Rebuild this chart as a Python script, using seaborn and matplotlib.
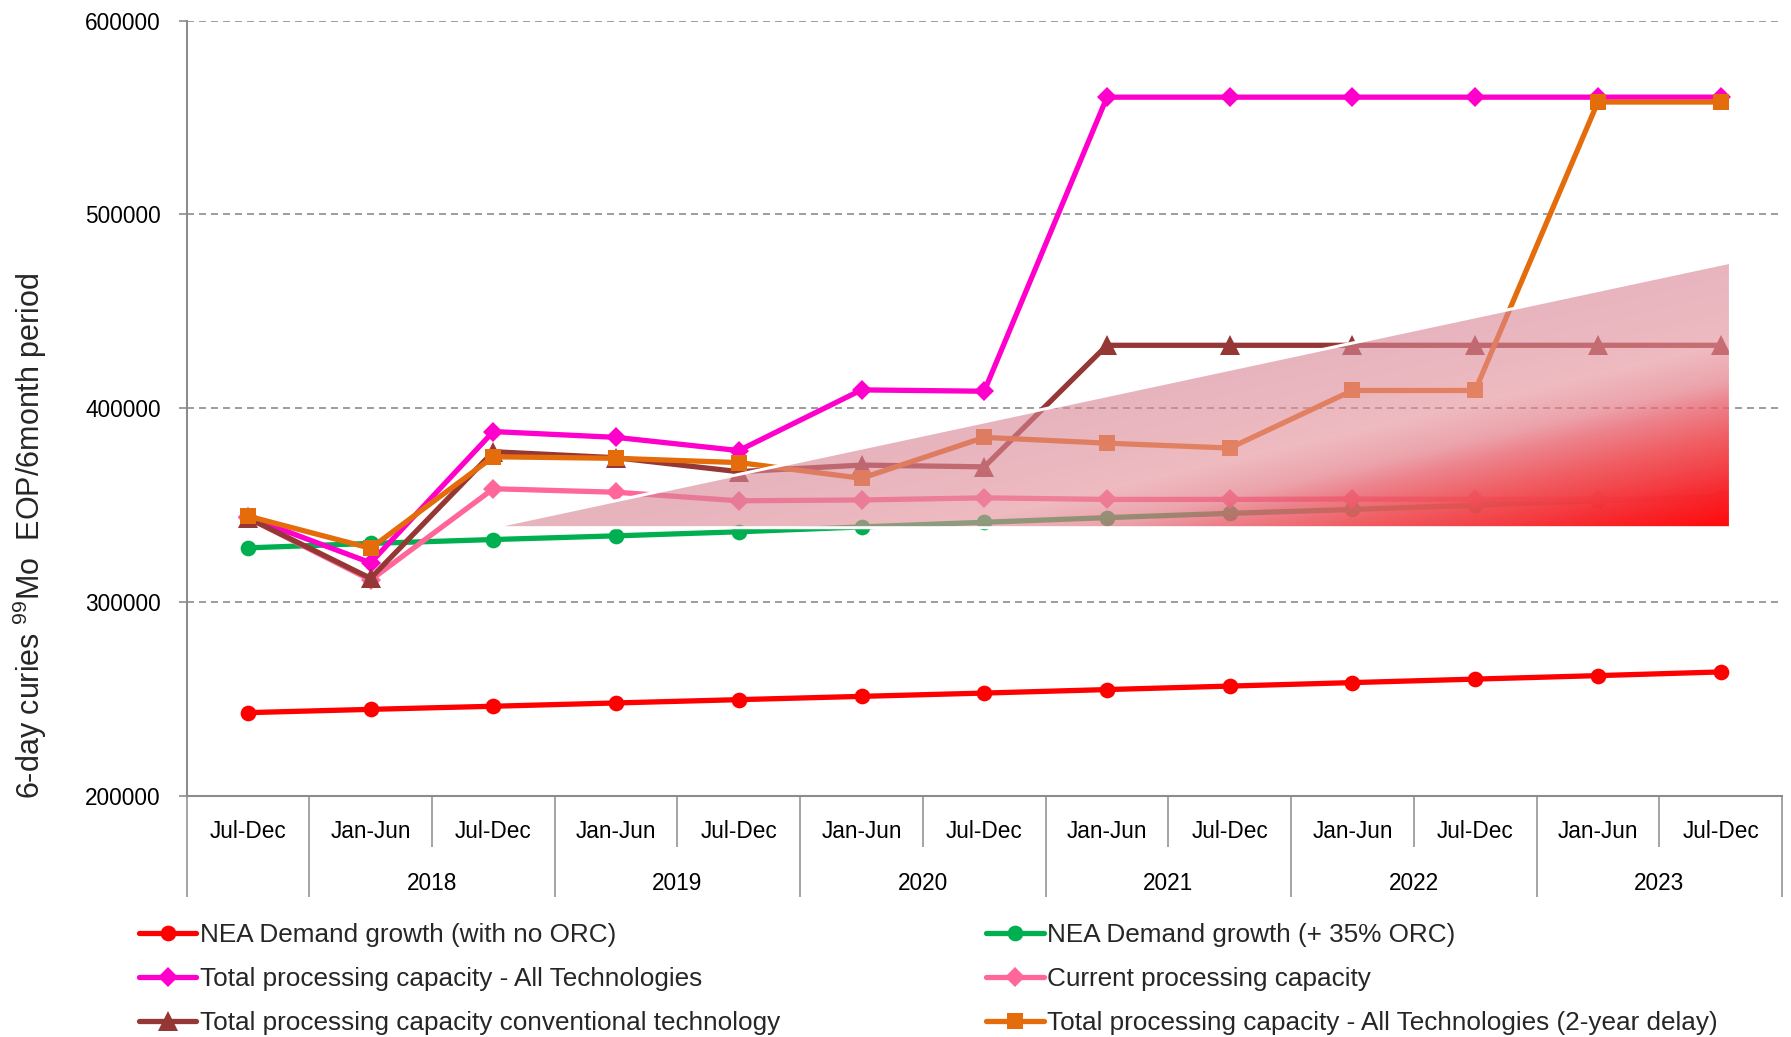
import numpy as np
import pandas as pd
import matplotlib
matplotlib.use("Agg")
import matplotlib.pyplot as plt
from matplotlib.patches import Polygon
from matplotlib.lines import Line2D
import matplotlib.transforms as mtransforms
import seaborn as sns

# ---------------- data ----------------
periods = ["Jul-Dec", "Jan-Jun", "Jul-Dec", "Jan-Jun", "Jul-Dec", "Jan-Jun", "Jul-Dec",
           "Jan-Jun", "Jul-Dec", "Jan-Jun", "Jul-Dec", "Jan-Jun", "Jul-Dec"]
years = ["2018", "2019", "2020", "2021", "2022", "2023"]

nea_no_orc = [243000, 244700, 246300, 248000, 249700, 251400, 253100,
              254900, 256700, 258500, 260300, 262100, 264000]
nea_orc = [328000, 330300, 332300, 334200, 336300, 338800, 341200,
           343600, 345800, 347800, 350000, 352300, 354500]
total_all = [344000, 320300, 388000, 385000, 378200, 409500, 408800,
             560500, 560500, 560500, 560500, 560500, 560500]
current_cap = [343500, 311400, 358500, 356700, 352300, 352700, 353800,
               353000, 353000, 353200, 353000, 353000, 353000]
conventional = [343500, 312300, 377600, 374500, 367300, 370700, 369800,
                432500, 432500, 432500, 432500, 432500, 432500]
all_delay = [344400, 327800, 375000, 374200, 372000, 363900, 385000,
             382000, 379500, 409200, 409200, 558000, 558000]

series_names = ["NEA Demand growth (with no ORC)",
                "NEA Demand growth (+ 35% ORC)",
                "Total processing capacity - All Technologies",
                "Current processing capacity",
                "Total processing capacity conventional technology",
                "Total processing capacity - All Technologies (2-year delay)"]

yticks = [200000, 300000, 400000, 500000, 600000]
ytick_labels = ["200000", "300000", "400000", "500000", "600000"]

# uncertainty wedge corners (category position, value)
wedge_x = [1.97, 12.08, 12.08]
wedge_y = [338400, 475400, 338400]

# ---------------- style ----------------
sns.set_theme(style="white")
plt.rcParams["font.family"] = ["Liberation Sans", "DejaVu Sans"]
plt.rcParams["mathtext.fontset"] = "custom"
plt.rcParams["mathtext.rm"] = "Liberation Sans"
plt.rcParams["mathtext.it"] = "Liberation Sans:italic"
plt.rcParams["mathtext.bf"] = "Liberation Sans:bold"

W, H = 1791, 1037
fig = plt.figure(figsize=(W / 100, H / 100), dpi=100)
ax_left, ax_right, ax_top, ax_bot = 186.5, 1782, 20.6, 796
ax = fig.add_axes([ax_left / W, 1 - ax_bot / H, (ax_right - ax_left) / W, (ax_bot - ax_top) / H])

xs = np.arange(len(periods))
colors = ["#FF0000", "#00B050", "#FF00CC", "#FF6699", "#953735", "#E46C0A"]
markers = ["o", "o", "D", "D", "^", "s"]
msizes = [11.3, 11.3, 10.3, 10.3, 14.0, 11.0]
LW = 3.8
datasets = [nea_no_orc, nea_orc, total_all, current_cap, conventional, all_delay]

for name, vals, c, m, ms in zip(series_names, datasets, colors, markers, msizes):
    df = pd.DataFrame({"x": xs, "y": vals})
    sns.lineplot(data=df, x="x", y="y", ax=ax, color=c, marker=m, markersize=ms,
                 markeredgecolor=c, markeredgewidth=0, linewidth=LW, legend=False,
                 zorder=3)

# ---------------- wedge with gradient ----------------
xmin_w, xmax_w = wedge_x[0], wedge_x[1]
ymin_w, ymax_w = min(wedge_y), max(wedge_y)
nx, ny = 700, 320
gx = np.linspace(xmin_w, xmax_w, nx)
gy = np.linspace(ymin_w, ymax_w, ny)
GX, GY = np.meshgrid(gx, gy)
px_per_x = 122.8
px_per_v = 1.9385 / 1000.0
X = (GX - xmax_w) * px_per_x
Y = (GY - ymin_w) * px_per_v
s = 1 - (X / (-631.0) + Y / 148.0)

stops_s = [-0.8, -0.25, 0.0, 0.15, 0.37, 0.56, 0.78, 1.0]
stops_t = np.array([[232, 180, 190], [239, 187, 193], [236, 163, 171], [237, 130, 140],
                    [240, 95, 100], [243, 68, 74], [248, 35, 40], [255, 8, 8]]) / 255.0
stops_a = [0.62, 0.62, 0.68, 0.8, 0.93, 0.97, 0.99, 1.0]
sc = np.clip(s, stops_s[0], stops_s[-1])
A = np.interp(sc, stops_s, stops_a)
rgba = np.zeros((ny, nx, 4))
for k in range(3):
    T = np.interp(sc, stops_s, stops_t[:, k])
    rgba[..., k] = np.clip(1 - (1 - T) / A, 0, 1)
rgba[..., 3] = A

poly = Polygon(list(zip(wedge_x, wedge_y)), closed=True, facecolor="none",
               edgecolor="white", linewidth=2.2, zorder=6)
im = ax.imshow(rgba, extent=[xmin_w, xmax_w, ymin_w, ymax_w], origin="lower",
               aspect="auto", interpolation="bilinear", zorder=5)
ax.add_patch(poly)
im.set_clip_path(poly)

# ---------------- axes ----------------
ax.set_xlim(-0.5, 12.5)
ax.set_ylim(200000, 600000)
ax.set_yticks(yticks)
ax.set_yticklabels(ytick_labels, fontsize=16.3)
ax.set_xlabel("")
ax.set_ylabel("")
ax.yaxis.grid(True, color="#8C8C8C", linestyle=(0, (4.2, 3.0)), linewidth=1.2)
ax.xaxis.grid(False)
ax.set_axisbelow(True)
for sp in ["top", "right"]:
    ax.spines[sp].set_visible(False)
for sp in ["left", "bottom"]:
    ax.spines[sp].set_color("#8C8C8C")
    ax.spines[sp].set_linewidth(1.5)
ax.tick_params(axis="y", which="major", left=True, length=5.5, width=1.2,
               color="#8C8C8C", pad=13, labelcolor="black")

major_x = [-0.5, 0.5, 2.5, 4.5, 6.5, 8.5, 10.5, 12.5]
minor_x = [1.5, 3.5, 5.5, 7.5, 9.5, 11.5]
ax.set_xticks(major_x)
ax.set_xticklabels([""] * len(major_x))
ax.set_xticks(minor_x, minor=True)
ax.tick_params(axis="x", which="major", bottom=True, length=73, width=1.1,
               color="#8C8C8C", direction="out")
ax.tick_params(axis="x", which="minor", bottom=True, length=37, width=1.1,
               color="#8C8C8C", direction="out")

trans = mtransforms.blended_transform_factory(ax.transData, ax.transAxes)
axh = ax_bot - ax_top
for i, p in enumerate(periods):
    ax.text(i, -(831 - ax_bot) / axh, p, transform=trans, ha="center", va="center",
            fontsize=16.3, color="black")
for j, yr in enumerate(years):
    ax.text(1.5 + 2 * j, -(883 - ax_bot) / axh, yr, transform=trans, ha="center",
            va="center", fontsize=16.3, color="black")

fig.text(30 / W, 1 - 536 / H, r"6-day curies $\mathregular{^{99}}$Mo  EOP/6month period",
         rotation=90, ha="center", va="center", fontsize=22)

# ---------------- legend ----------------
handles = []
for name, c, m, ms in zip(series_names, colors, markers, msizes):
    handles.append(Line2D([0], [0], color=c, marker=m, markersize=ms, markeredgewidth=0,
                          linewidth=LW, label=name))
order = [0, 2, 4, 1, 3, 5]
leg = fig.legend([handles[i] for i in order], [series_names[i] for i in order],
                 ncol=2, loc="upper left", bbox_to_anchor=(139 / W, 1 - 923 / H),
                 frameon=False, fontsize=18.8, handlelength=2.2, handletextpad=0.12,
                 columnspacing=7.9, labelspacing=0.77, borderpad=0, borderaxespad=0)

fig.savefig("out.png", dpi=100)
